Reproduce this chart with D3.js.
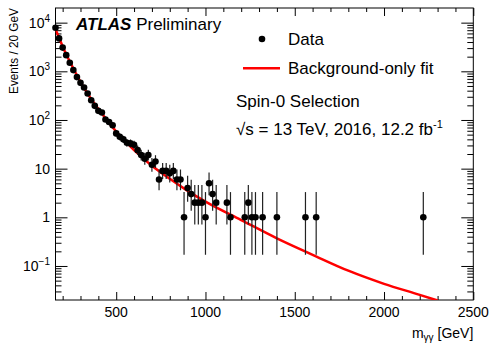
<!DOCTYPE html>
<html>
<head>
<meta charset="utf-8">
<script src="https://cdn.jsdelivr.net/npm/d3@7"></script>
<style>
  body { margin: 0; background: #fff; }
  svg { display: block; font-family: "Liberation Sans", Arial, Helvetica, sans-serif; }
</style>
</head>
<body>
<div id="chart"></div>
<script>
// Data points (bin centres, 20 GeV bins)
const massBins = [160, 180, 200, 220, 240, 260, 280, 300, 320, 340, 360, 380, 400, 420, 440, 460, 480,
  500, 520, 540, 560, 580, 600, 620, 640, 660, 680, 700, 720, 740, 760, 780, 800, 820, 840, 860,
  880, 900, 920, 940, 960, 980, 1000, 1020, 1040, 1060, 1120, 1140, 1220, 1240, 1260, 1280, 1320,
  1400, 1560, 1620, 2220];
const counts = [7850, 4750, 3070, 2150, 1500, 1060, 760, 580, 466, 351, 255, 195, 154, 142, 102, 91, 78,
  53, 45, 40, 34, 33, 31, 24, 19, 16, 19, 12, 14, 6, 9, 9, 8, 9, 6, 6,
  1, 4, 3, 2, 2, 2, 1, 5, 3, 2, 2, 1, 1, 2, 1, 1, 1,
  1, 1, 1, 1];
// Error bar lengths (down / up)
const errDown = [89, 69, 55, 46, 39, 33, 28, 24, 22, 19, 16, 14, 12, 12, 10, 9.5, 8.8,
  7.3, 6.7, 6.3, 5.8, 5.7, 5.5, 4.9, 4.3, 4.0, 4.3, 3.4, 3.7, 2.4, 2.9, 2.9, 2.8, 2.9, 2.4, 2.4,
  0.83, 1.91, 1.63, 1.29, 1.29, 1.29, 0.83, 2.16, 1.63, 1.29, 1.29, 0.83, 0.83, 1.29, 0.83, 0.83, 0.83,
  0.83, 0.83, 0.83, 0.83];
const errUp = [89, 70, 56, 47, 40, 34, 29, 25, 23, 20, 17, 15, 13, 13, 11, 10.5, 9.8,
  8.3, 7.7, 7.4, 6.9, 6.8, 6.6, 6.0, 5.5, 5.1, 5.5, 4.6, 4.9, 3.6, 4.1, 4.1, 4.0, 4.1, 3.6, 3.6,
  2.30, 3.16, 2.92, 2.64, 2.64, 2.64, 2.30, 3.38, 2.92, 2.64, 2.64, 2.30, 2.30, 2.64, 2.30, 2.30, 2.30,
  2.30, 2.30, 2.30, 2.30];

// Background-only fit, sampled from the curve
const fitMass = [160, 180, 200, 220, 250, 300, 350, 400, 450, 500, 600, 700, 800, 900, 1000,
  1200, 1400, 1600, 1800, 2000, 2200, 2300];
const fitValues = [7300, 4900, 3250, 2250, 1350, 610, 305, 170, 97, 58, 24, 11.5, 6.2, 3.5, 2.1,
  0.88, 0.37, 0.17, 0.08, 0.043, 0.0255, 0.0195];

const xTicks = [500, 1000, 1500, 2000, 2500];
const yTicks = [0.1, 1, 10, 100, 1000, 10000];
const yTickLabels = [['10', '\u22121'], ['1', ''], ['10', ''], ['10', '2'], ['10', '3'], ['10', '4']];

const W = 495, H = 343;
const plot = { left: 55.5, right: 473.3, top: 8, bottom: 300 };

const svg = d3.select('#chart').append('svg')
  .attr('width', W)
  .attr('height', H);

const x = d3.scaleLinear().domain([160, 2500]).range([plot.left, plot.right]);
const y = d3.scaleLog().domain([0.02, 20000]).range([plot.bottom, plot.top]);

svg.append('defs').append('clipPath').attr('id', 'plot-clip')
  .append('rect')
  .attr('x', plot.left).attr('y', plot.top)
  .attr('width', plot.right - plot.left).attr('height', plot.bottom - plot.top);

// Ticks on all four sides, pointing inwards
const xMinor = d3.range(200, 2500, 100).filter(v => v % 500 !== 0);
const yMinor = [];
[0.01, 0.1, 1, 10, 100, 1000, 10000].forEach(d => {
  for (let k = 2; k <= 9; k++) {
    const v = d * k;
    if (v > 0.02 && v < 20000) yMinor.push(v);
  }
});

function drawAxis(gen, tx, ty) {
  const g = svg.append('g').attr('transform', `translate(${tx},${ty})`).call(gen);
  g.selectAll('text').remove();
  g.select('.domain').remove();
  g.selectAll('line').attr('stroke', '#000').attr('stroke-width', 1);
  return g;
}

drawAxis(d3.axisBottom(x).tickValues(xTicks).tickSize(-8), 0, plot.bottom);
drawAxis(d3.axisBottom(x).tickValues(xMinor).tickSize(-4), 0, plot.bottom);
drawAxis(d3.axisTop(x).tickValues(xTicks).tickSize(-8), 0, plot.top);
drawAxis(d3.axisTop(x).tickValues(xMinor).tickSize(-4), 0, plot.top);
drawAxis(d3.axisLeft(y).tickValues(yTicks).tickSize(-12), plot.left, 0);
drawAxis(d3.axisLeft(y).tickValues(yMinor).tickSize(-6), plot.left, 0);
drawAxis(d3.axisRight(y).tickValues(yTicks).tickSize(-12), plot.right, 0);
drawAxis(d3.axisRight(y).tickValues(yMinor).tickSize(-6), plot.right, 0);

svg.append('rect')
  .attr('x', plot.left).attr('y', plot.top)
  .attr('width', plot.right - plot.left).attr('height', plot.bottom - plot.top)
  .attr('fill', 'none').attr('stroke', '#000').attr('stroke-width', 1);

// Tick labels
svg.selectAll('.xlabel')
  .data(xTicks)
  .enter()
  .append('text')
  .attr('class', 'xlabel')
  .attr('x', d => x(d))
  .attr('y', 317)
  .attr('text-anchor', 'middle')
  .style('font-size', '14px')
  .text(d => d);

const ylab = svg.selectAll('.ylabel')
  .data(yTicks)
  .enter()
  .append('text')
  .attr('class', 'ylabel')
  .attr('x', 50)
  .attr('y', d => y(d) + 5)
  .attr('text-anchor', 'end')
  .style('font-size', '14px');
ylab.append('tspan').text((d, i) => yTickLabels[i][0]);
ylab.append('tspan')
  .attr('dy', -6)
  .style('font-size', '10px')
  .text((d, i) => yTickLabels[i][1]);

// Axis titles
const xt = svg.append('text')
  .attr('x', plot.right)
  .attr('y', 338)
  .attr('text-anchor', 'end')
  .style('font-size', '14px');
xt.append('tspan').text('m');
xt.append('tspan').attr('dy', 3).style('font-size', '10px').text('\u03b3\u03b3');
xt.append('tspan').attr('dy', -3).text(' [GeV]');

svg.append('text')
  .attr('transform', `translate(18,${plot.top}) rotate(-90)`)
  .attr('text-anchor', 'end')
  .attr('textLength', 86)
  .attr('lengthAdjust', 'spacingAndGlyphs')
  .style('font-size', '13px')
  .text('Events / 20 GeV');

// Fit curve
const plotArea = svg.append('g').attr('clip-path', 'url(#plot-clip)');
const fitLine = d3.line()
  .x(d => x(d[0]))
  .y(d => y(d[1]))
  .curve(d3.curveMonotoneX);

plotArea.append('path')
  .datum(fitMass.map((m, i) => [m, fitValues[i]]))
  .attr('d', fitLine)
  .attr('fill', 'none')
  .attr('stroke', '#ff0000')
  .attr('stroke-width', 2.5);

// Data with error bars
const points = massBins.map((m, i) => ({
  m: m, n: counts[i], lo: counts[i] - errDown[i], hi: counts[i] + errUp[i]
}));

svg.selectAll('.err')
  .data(points)
  .enter()
  .append('line')
  .attr('class', 'err')
  .attr('x1', d => x(d.m)).attr('x2', d => x(d.m))
  .attr('y1', d => y(Math.max(d.lo, 0.02))).attr('y2', d => y(d.hi))
  .attr('stroke', '#222')
  .attr('stroke-width', 1.2);

svg.selectAll('.pt')
  .data(points)
  .enter()
  .append('circle')
  .attr('class', 'pt')
  .attr('cx', d => x(d.m))
  .attr('cy', d => y(d.n))
  .attr('r', 3.3)
  .attr('fill', '#000');

// ATLAS label
const atlas = svg.append('text').attr('x', 76).attr('y', 30).style('font-size', '17px');
atlas.append('tspan').style('font-weight', 'bold').style('font-style', 'italic').text('ATLAS');
atlas.append('tspan').text(' Preliminary');

// Legend
svg.append('circle').attr('cx', 262).attr('cy', 39).attr('r', 3.3).attr('fill', '#000');
svg.append('text').attr('x', 288).attr('y', 45).style('font-size', '17px').text('Data');
svg.append('line')
  .attr('x1', 243).attr('x2', 280).attr('y1', 68.3).attr('y2', 68.3)
  .attr('stroke', '#ff0000').attr('stroke-width', 2.5);
svg.append('text').attr('x', 288).attr('y', 74).style('font-size', '17px').text('Background-only fit');

svg.append('text').attr('x', 236).attr('y', 107).style('font-size', '17px').text('Spin-0 Selection');
const energy = svg.append('text').attr('x', 236).attr('y', 135).style('font-size', '17px');
energy.append('tspan').text('\u221as = 13 TeV, 2016, 12.2 fb');
energy.append('tspan').attr('dy', -7).style('font-size', '11px').text('-1');
</script>
</body>
</html>
